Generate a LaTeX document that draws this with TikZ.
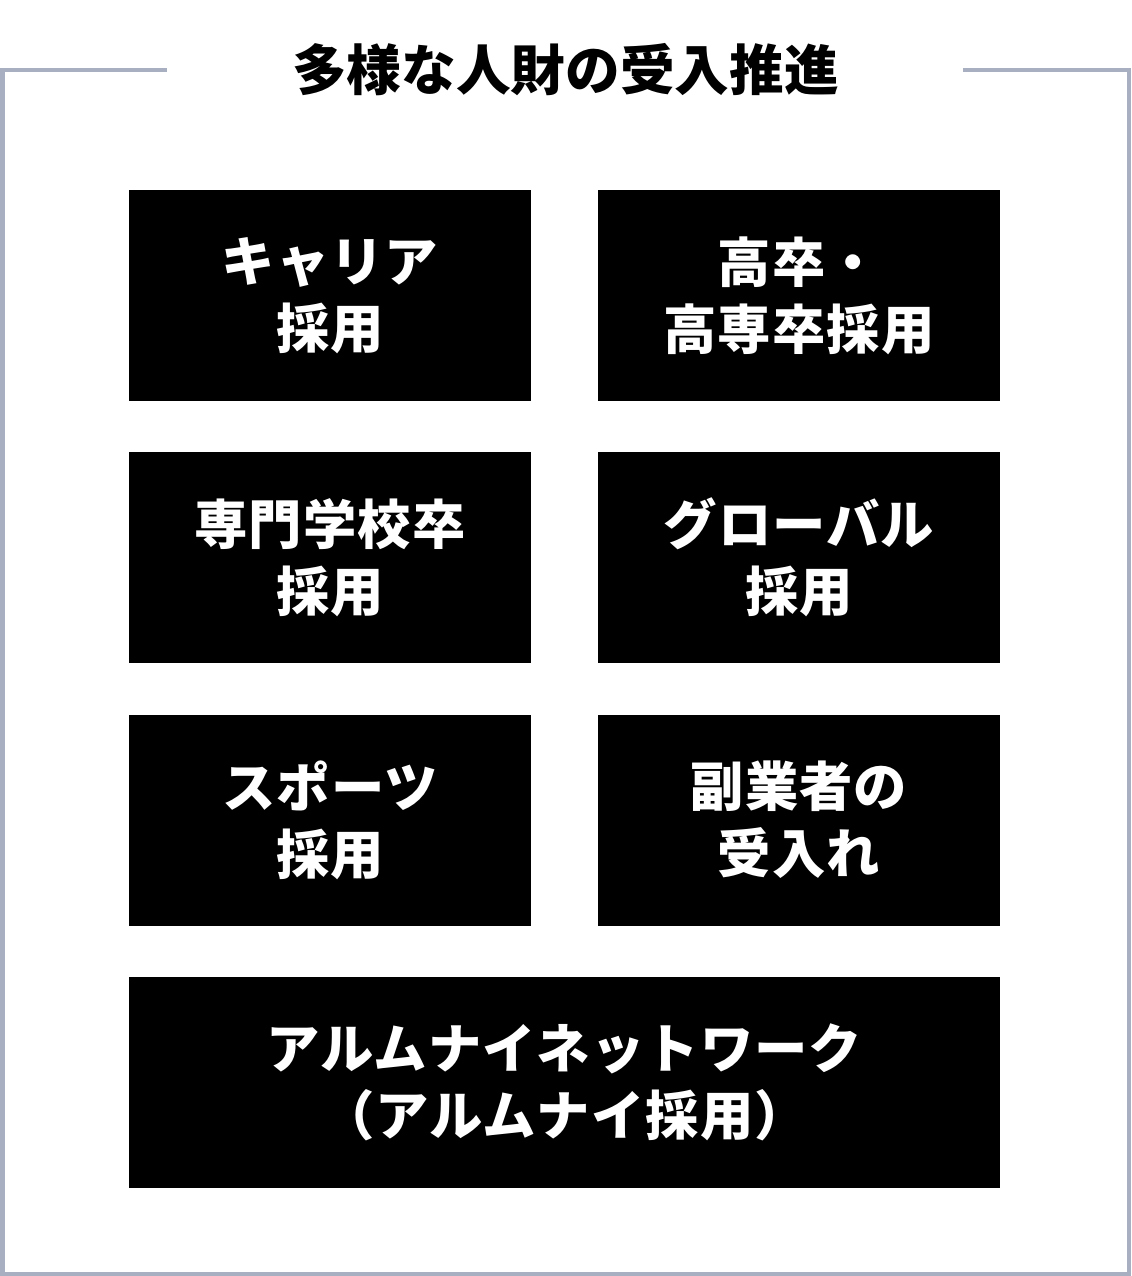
\documentclass[tikz,border=0pt]{standalone}
\usepackage{fontspec}
\setmainfont{Noto Sans CJK JP}
\newfontfamily\tilefont{Noto Sans CJK JP}[LetterSpace=2]
\definecolor{framegray}{RGB}{168,175,192}
\tikzset{
	tile/.style={fill=black,text=white,font=\tilefont\bfseries\fontsize{40}{50.25}\selectfont,align=center,minimum width=301.5pt,minimum height=158.25pt,inner sep=0pt},
	widetile/.style={tile,minimum width=653.25pt}
}
\begin{document}
\begin{tikzpicture}[x=0.75pt,y=-0.75pt]
				\useasboundingbox (0,0) rectangle (1131,1276);
				\draw [framegray,line width=3pt] (167,70.5) -- (2.5,70.5) -- (2.5,1273.5) -- (1128.5,1273.5) -- (1128.5,70.5) -- (963,70.5);
				\node [font=\bfseries\fontsize{41}{48}\selectfont] (title) at (565.5,70) {多様な人財の受入推進};
				\node [tile] (career) at (330,295.5) {キャリア\\採用};
				\node [tile] (kosotsu) at (799,295.5) {高卒・\\高専卒採用};
				\node [tile] (senmon) at (330,557.5) {専門学校卒\\採用};
				\node [tile] (global) at (799,557.5) {グローバル\\採用};
				\node [tile] (sports) at (330,820) {スポーツ\\採用};
				\node [tile] (fukugyo) at (799,820) {副業者の\\受入れ};
				\node [widetile] (alumni) at (564.5,1082.5) {アルムナイネットワーク\\（アルムナイ採用）};
			\end{tikzpicture}
\end{document}
